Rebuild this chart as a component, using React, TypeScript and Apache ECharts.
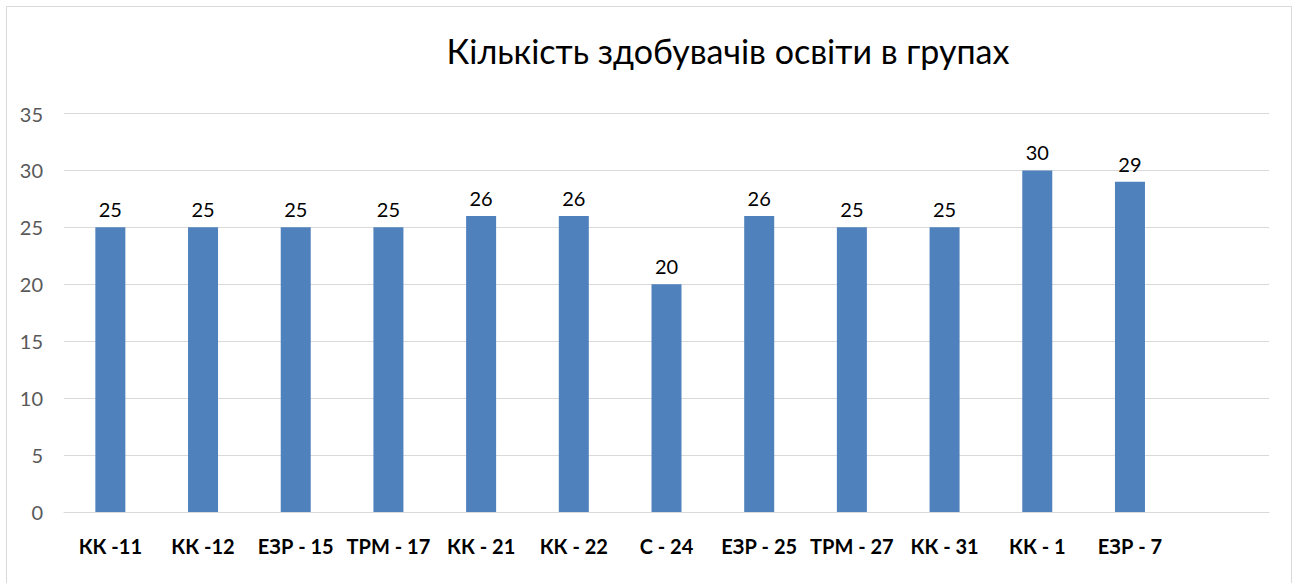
import React, { useEffect, useRef } from "react";
import * as echarts from "echarts";

const categories = ["КК -11", "КК -12", "ЕЗР - 15", "ТРМ - 17", "КК - 21", "КК - 22", "С - 24", "ЕЗР - 25", "ТРМ - 27", "КК - 31", "КК - 1", "ЕЗР - 7", ""];
const values: (number | null)[] = [25, 25, 25, 25, 26, 26, 20, 26, 25, 25, 30, 29, null];
const title = "Кількість здобувачів освіти в групах";

export default function App() {
  const ref = useRef<HTMLDivElement>(null);
  useEffect(() => {
    if (!ref.current) return;
    const chart = echarts.init(ref.current, null, { renderer: "svg" });
    chart.setOption({
      animation: false,
      backgroundColor: "#ffffff",
      textStyle: { fontFamily: "Lato" },
      graphic: [
        {
          type: "rect",
          shape: { x: 6.5, y: 6.5, width: 1285, height: 580 },
          style: { fill: "none", stroke: "#d9d9d9", lineWidth: 1 },
          silent: true,
        },
        {
          type: "text",
          x: 728,
          y: 50,
          style: {
            text: title,
            fontFamily: "Lato",
            fontSize: 34,
            fill: "#000000",
            textAlign: "center",
            textVerticalAlign: "middle",
          },
        },
      ],
      grid: { left: 64, right: 29, top: 113.5, bottom: 71, containLabel: false },
      xAxis: {
        type: "category",
        data: categories,
        axisLine: { show: true, lineStyle: { color: "#d9d9d9", width: 1 } },
        axisTick: { show: false },
        axisLabel: {
          interval: 0,
          color: "#000000",
          fontWeight: "bold",
          fontSize: 20,
          fontFamily: "Lato",
          margin: 24,
        },
      },
      yAxis: {
        type: "value",
        min: 0,
        max: 35,
        interval: 5,
        axisLine: { show: false },
        axisTick: { show: false },
        splitLine: { lineStyle: { color: "#d9d9d9", width: 1 } },
        axisLabel: { color: "#595959", fontSize: 20, fontFamily: "Lato", margin: 21 },
      },
      series: [
        {
          type: "bar",
          data: values,
          barWidth: 30,
          itemStyle: { color: "#4f81bd" },
          label: {
            show: true,
            position: "top",
            distance: 8,
            color: "#000000",
            fontSize: 20,
            fontFamily: "Lato",
          },
        },
      ],
    });
    return () => chart.dispose();
  }, []);
  return (
    <div
      ref={ref}
      style={{ position: "fixed", left: 0, top: 0, width: 1298, height: 583 }}
    />
  );
}
